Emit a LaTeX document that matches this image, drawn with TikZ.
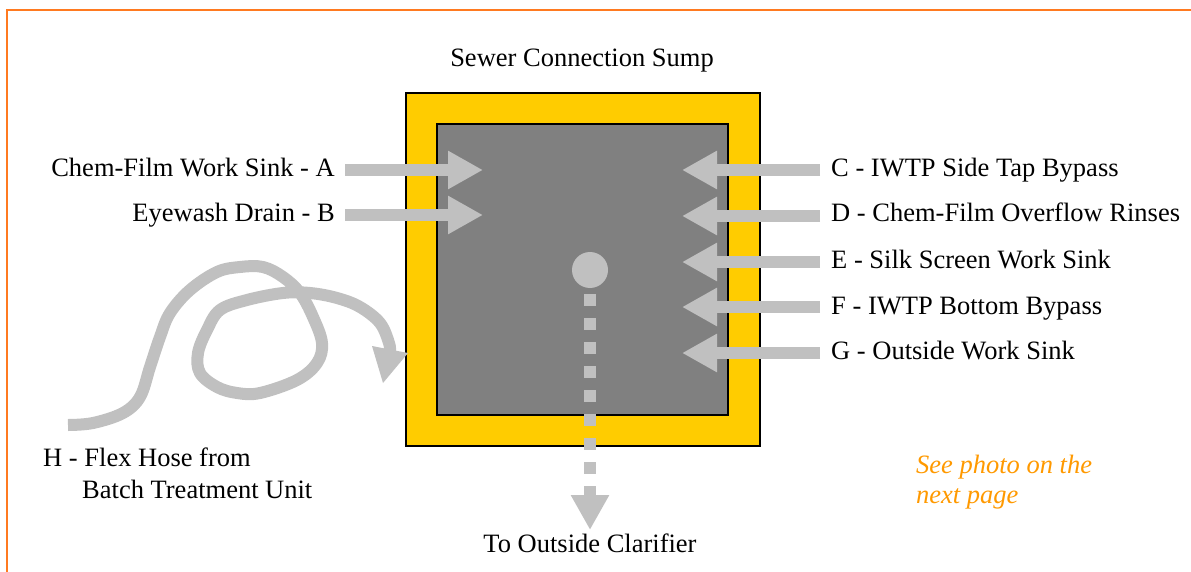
\documentclass[tikz,border=0pt]{standalone}
\usepackage{fontspec}
\setmainfont{Liberation Serif}
\usetikzlibrary{arrows.meta}
\definecolor{frameorange}{RGB}{255,122,32}
\definecolor{noteorange}{RGB}{255,153,0}
\definecolor{sumpyellow}{RGB}{255,204,0}
\definecolor{sumpgray}{RGB}{128,128,128}
\definecolor{flowgray}{RGB}{192,192,192}
\tikzset{
  lbl/.style={inner sep=0pt, font=\fontsize{26.5}{30}\selectfont},
  blockarrow/.style={draw=flowgray, line width=12.5pt, -{Triangle[width=36pt,length=35pt]}},
  hose/.style={draw=flowgray, line width=12pt, line join=round, line cap=butt},
}
\begin{document}
\begin{tikzpicture}[x=1pt,y=-1pt]
\useasboundingbox (0,0) rectangle (1191,572);
% partial frame
\draw[frameorange, line width=2pt] (1191,10) -- (7,10) -- (7,572);

% sump
\node[lbl, anchor=base] (title) at (582,67) {Sewer Connection Sump};
\path[fill=sumpyellow, draw=black, line width=1.5pt] (406,93) rectangle (760,446);
\path[fill=sumpgray, draw=black, line width=1.5pt] (437,124) rectangle (728,415);
\coordinate (outer) at (583,270);

% left inflows
\node[lbl, anchor=base east] (A) at (335,177) {Chem-Film Work Sink - A};
\node[lbl, anchor=base east] (B) at (335,222) {Eyewash Drain - B};
\coordinate (Aend) at (483,170);
\coordinate (Bend) at (483,215);
\draw[blockarrow] (345,170) -- (Aend);
\draw[blockarrow] (345,215) -- (Bend);

% right inflows
\node[lbl, anchor=base west] (C) at (831,177) {C - IWTP Side Tap Bypass};
\node[lbl, anchor=base west] (D) at (831,222) {D - Chem-Film Overflow Rinses};
\node[lbl, anchor=base west] (E) at (831,268) {E - Silk Screen Work Sink};
\node[lbl, anchor=base west] (F) at (831,314) {F - IWTP Bottom Bypass};
\node[lbl, anchor=base west] (G) at (831,359) {G - Outside Work Sink};
\foreach \n/\y in {C/170,D/216,E/262,F/307,G/353}{
  \coordinate (\n s) at (820,\y);
  \coordinate (\n e) at (682,\y);
  \draw[blockarrow] (\n s) -- (\n e);
}

% drain and outlet
\node[circle, fill=flowgray, minimum size=36pt, inner sep=0pt] (drain) at (590,270) {};
\coordinate (dashend) at (590,498);
\coordinate (outlet) at (590,530);
\draw[flowgray, line width=12pt, dash pattern=on 12pt off 12pt] (590,294) -- (dashend);
\draw[flowgray, line width=12pt, -{Triangle[width=36pt,length=35pt]}] (590,494) -- (outlet);
\node[lbl, anchor=base] (clar) at (590,552) {To Outside Clarifier};

% flex hose
\draw[hose] plot[smooth, tension=0.6] coordinates {
 (68,425) (93,423) (123,413) (140,397) (150,367) (160,337) (170,313) (190,290)
 (217,272) (240,267) (263,267) (283,277) (300,293) (313,317) (322,343) (317,363)
 (297,380) (260,393) (237,393) (217,387) (200,373) (198,353) (207,330) (220,310)
 (247,300) (283,293) (310,293) (337,298) (360,307) (380,323) (389,343) (390,352)};
\coordinate (hosetip) at (383,383);
\fill[flowgray] (372,346) -- (408,353) -- (hosetip) -- cycle;
\node[lbl, anchor=base west] (H1) at (43,466) {H - Flex Hose from};
\node[lbl, anchor=base west] (H2) at (82,498) {Batch Treatment Unit};

% note
\node[lbl, anchor=base west, text=noteorange, font=\fontsize{26.5}{30}\selectfont\itshape] (N1) at (916,473) {See photo on the};
\node[lbl, anchor=base west, text=noteorange, font=\fontsize{26.5}{30}\selectfont\itshape] (N2) at (916,503) {next page};
\end{tikzpicture}
\end{document}
